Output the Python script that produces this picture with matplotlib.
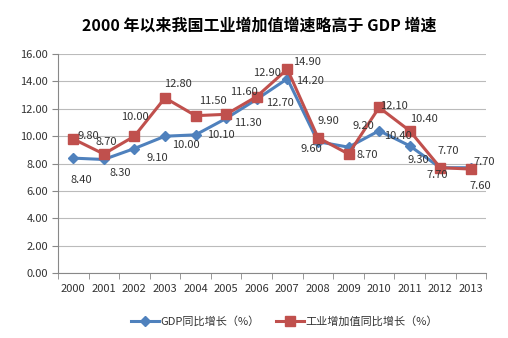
import numpy as np
import matplotlib.pyplot as plt

plt.rcParams['font.family'] = ['Noto Sans CJK SC', 'DejaVu Sans']

years = ['2000', '2001', '2002', '2003', '2004', '2005', '2006',
         '2007', '2008', '2009', '2010', '2011', '2012', '2013']
gdp = [8.4, 8.3, 9.1, 10.0, 10.1, 11.3, 12.7, 14.2, 9.6, 9.2, 10.4, 9.3, 7.7, 7.7]
ind = [9.8, 8.7, 10.0, 12.8, 11.5, 11.6, 12.9, 14.9, 9.9, 8.7, 12.1, 10.4, 7.7, 7.6]

# label offsets in pixels (dx, dy)
gdp_off = [(8, -22), (16, -14), (23, -9), (21, -9), (25, 0), (22, -5), (23, -4),
           (23, -2), (-7, -7), (15, 21), (19, -5), (9, -14), (8, 17), (13, 6)]
ind_off = [(15, 3), (2, 12), (1, 19), (13, 14), (17, 15), (18, 22), (10, 24),
           (20, 7), (10, 17), (19, -1), (15, 1), (14, 12), (-3, -7), (9, -17)]

blue = '#4F81BD'
red = '#C0504D'
txt = '#333333'

fig = plt.figure(figsize=(5.08, 3.38), dpi=100)
ax = fig.add_axes([0.114, 0.192, 0.843, 0.648])
x = np.arange(len(years))

ax.plot(x, gdp, color=blue, lw=2.2, marker='D', ms=5, label='GDP同比增长（%）', zorder=3)
ax.plot(x, ind, color=red, lw=2.2, marker='s', ms=7, label='工业增加值同比增长（%）', zorder=3)

for i in range(len(x)):
    ax.annotate('%.2f' % gdp[i], (x[i], gdp[i]), xytext=gdp_off[i],
                textcoords='offset pixels', ha='center', va='center',
                fontsize=8, color=txt, zorder=4)
    ax.annotate('%.2f' % ind[i], (x[i], ind[i]), xytext=ind_off[i],
                textcoords='offset pixels', ha='center', va='center',
                fontsize=8, color=txt, zorder=4)

ax.set_xlim(-0.5, len(x) - 0.5)
ax.set_ylim(0, 16)
ax.set_yticks(np.arange(0, 17, 2))
ax.set_yticklabels(['%.2f' % v for v in np.arange(0, 17, 2)], fontsize=8, color=txt)
ax.set_xticks(x)
ax.set_xticklabels(years, fontsize=8, color=txt)
ax.set_xticks(np.arange(-0.5, len(x), 1), minor=True)
ax.tick_params(axis='x', which='major', length=0, pad=8)
ax.tick_params(axis='x', which='minor', length=4, color='#888888')
ax.tick_params(axis='y', length=4, color='#888888', pad=3)
ax.grid(axis='y', color='#BBBBBB', lw=0.8)
ax.set_axisbelow(True)
for s in ['top', 'right']:
    ax.spines[s].set_visible(False)
for s in ['left', 'bottom']:
    ax.spines[s].set_color('#888888')

fig.text(0.51, 0.925, '2000 年以来我国工业增加值增速略高于 GDP 增速',
         ha='center', va='center', fontsize=11.5, fontweight='bold')
fig.legend(loc='center', bbox_to_anchor=(0.56, 0.05), ncol=2, frameon=False,
           fontsize=8, handlelength=2.5, columnspacing=1.5, handletextpad=0.1,
           labelcolor=txt)

fig.savefig('out.png', dpi=100)
